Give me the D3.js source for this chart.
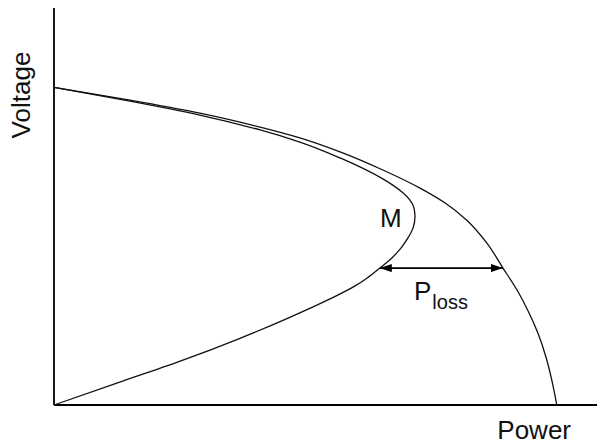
<!DOCTYPE html>
<html>
<head>
<meta charset="utf-8">
<script src="https://cdn.jsdelivr.net/npm/d3@7"></script>
<style>
  html, body { margin: 0; padding: 0; background: #fff; }
  svg { display: block; }
  text { font-family: "Liberation Sans", Arial, sans-serif; fill: #111; }
</style>
</head>
<body>
<svg id="chart" width="604" height="447"></svg>
<script>
// P-V (nose) curves: power in per-unit of the outer curve's maximum, voltage in per-unit.
// Outer curve: power versus voltage without losses.
const outerPower   = [0, 0.151, 0.290, 0.410, 0.489, 0.569, 0.654, 0.728, 0.778, 0.821, 0.861, 0.893, 0.921, 0.943, 0.963, 0.979, 0.990, 1.0];
const outerVoltage = [1, 0.960, 0.919, 0.875, 0.841, 0.797, 0.740, 0.683, 0.636, 0.582, 0.510, 0.431, 0.362, 0.296, 0.224, 0.148, 0.079, 0];

// Inner curve: power versus voltage with losses; its tip is the maximum point M.
const innerPower   = [0, 0.151, 0.290, 0.410, 0.489, 0.569, 0.654, 0.676, 0.694, 0.708, 0.716, 0.718, 0.714, 0.704, 0.690, 0.672, 0.648, 0.623, 0.599, 0.549, 0.469, 0.370, 0.251, 0.125, 0];
const innerVoltage = [1, 0.957, 0.913, 0.866, 0.828, 0.778, 0.712, 0.690, 0.668, 0.645, 0.620, 0.592, 0.557, 0.526, 0.494, 0.463, 0.431, 0.400, 0.375, 0.334, 0.276, 0.210, 0.138, 0.069, 0];

// Loss arrow between the two curves at one voltage level.
const lossVoltage = 0.431;
const lossFrom = 0.648;
const lossTo = 0.893;

const axisLabels = { x: "Power", y: "Voltage" };
const pointLabel = "M";
const lossLabel = { main: "P", sub: "loss" };

const svg = d3.select("#chart");

const x = d3.scaleLinear().domain([0, 1.08]).range([54, 597]);
const y = d3.scaleLinear().domain([0, 1.25]).range([405, 8]);

// Axes drawn as plain lines (no ticks)
svg.append("line")
  .attr("x1", x(0)).attr("x2", x(0))
  .attr("y1", y(0)).attr("y2", y(1.25))
  .attr("stroke", "#000").attr("stroke-width", 1.8);
svg.append("line")
  .attr("x1", x(0)).attr("x2", x(1.08))
  .attr("y1", y(0)).attr("y2", y(0))
  .attr("stroke", "#000").attr("stroke-width", 1.8);

// Both curves run monotonically downward in voltage, so a y-monotone spline keeps them smooth
const line = d3.line()
  .x(d => x(d[0]))
  .y(d => y(d[1]))
  .curve(d3.curveMonotoneY);

const outer = outerPower.map((p, i) => [p, outerVoltage[i]]);
const inner = innerPower.map((p, i) => [p, innerVoltage[i]]);

svg.append("path").datum(outer)
  .attr("d", line)
  .attr("fill", "none").attr("stroke", "#111").attr("stroke-width", 1.3);
svg.append("path").datum(inner)
  .attr("d", line)
  .attr("fill", "none").attr("stroke", "#111").attr("stroke-width", 1.3);

// Double-headed arrow
const defs = svg.append("defs");
defs.append("marker")
  .attr("id", "head")
  .attr("viewBox", "0 0 12 8")
  .attr("refX", 12).attr("refY", 4)
  .attr("markerWidth", 12).attr("markerHeight", 8)
  .attr("markerUnits", "userSpaceOnUse")
  .attr("orient", "auto-start-reverse")
  .append("path")
  .attr("d", "M0,0 L12,4 L0,8 Z")
  .attr("fill", "#000");

svg.append("line")
  .attr("x1", x(lossFrom)).attr("x2", x(lossTo))
  .attr("y1", y(lossVoltage)).attr("y2", y(lossVoltage))
  .attr("stroke", "#000").attr("stroke-width", 1.8)
  .attr("marker-start", "url(#head)")
  .attr("marker-end", "url(#head)");

// Labels
svg.append("text")
  .attr("x", 380).attr("y", 227)
  .attr("font-size", 26)
  .text(pointLabel);

const pl = svg.append("text")
  .attr("x", 414).attr("y", 300)
  .attr("font-size", 26);
pl.append("tspan").text(lossLabel.main);
pl.append("tspan").attr("font-size", 20).attr("dy", 9).attr("dx", 1).text(lossLabel.sub);

svg.append("text")
  .attr("x", 571).attr("y", 439)
  .attr("font-size", 26)
  .attr("text-anchor", "end")
  .text(axisLabels.x);

svg.append("text")
  .attr("transform", "translate(30,95) rotate(-90)")
  .attr("font-size", 26)
  .attr("text-anchor", "middle")
  .text(axisLabels.y);
</script>
</body>
</html>
